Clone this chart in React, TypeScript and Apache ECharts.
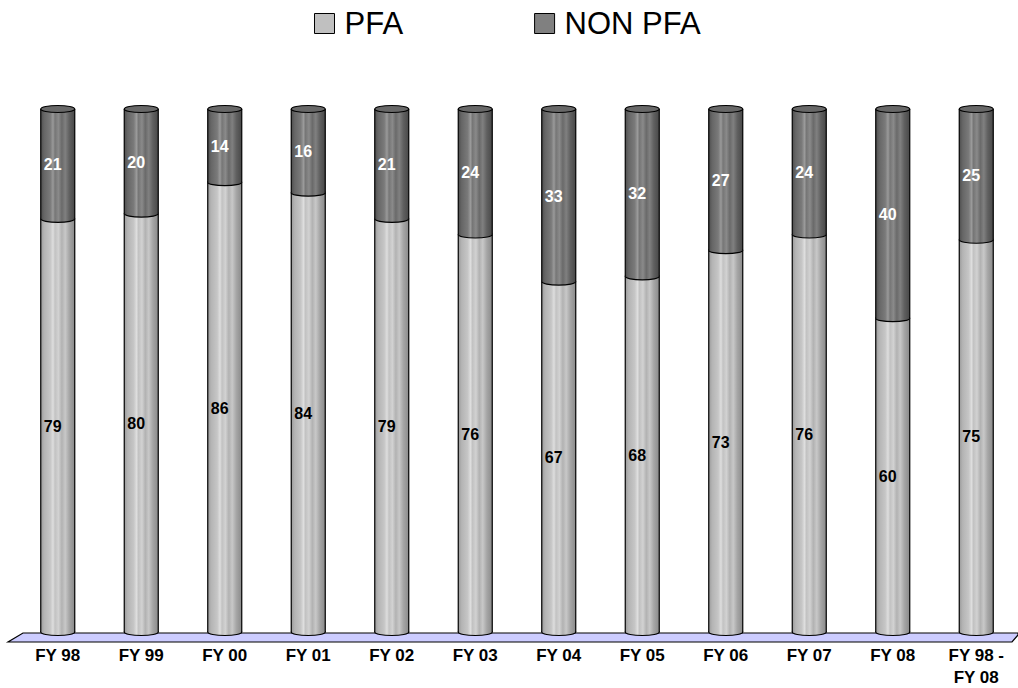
import React, { useEffect, useRef } from "react";
import * as echarts from "echarts";

const categories = ["FY 98", "FY 99", "FY 00", "FY 01", "FY 02", "FY 03", "FY 04", "FY 05", "FY 06", "FY 07", "FY 08", "FY 98 -\nFY 08"];
const pfa = [79, 80, 86, 84, 79, 76, 67, 68, 73, 76, 60, 75];
const nonPfa = [21, 20, 14, 16, 21, 24, 33, 32, 27, 24, 40, 25];
const seriesNames = ["PFA", "NON PFA"];

const FONT = "'Liberation Sans', Arial, sans-serif";

const lightStops = [
  { offset: 0, color: "#9a9a9a" },
  { offset: 0.1, color: "#b4b4b4" },
  { offset: 0.28, color: "#c6c6c6" },
  { offset: 0.36, color: "#dedede" },
  { offset: 0.42, color: "#c2c2c2" },
  { offset: 0.52, color: "#d2d2d2" },
  { offset: 0.62, color: "#b2b2b2" },
  { offset: 0.72, color: "#c8c8c8" },
  { offset: 0.84, color: "#a6a6a6" },
  { offset: 1, color: "#8a8a8a" },
];
const darkStops = [
  { offset: 0, color: "#4e4e4e" },
  { offset: 0.1, color: "#666666" },
  { offset: 0.28, color: "#7a7a7a" },
  { offset: 0.36, color: "#9a9a9a" },
  { offset: 0.42, color: "#767676" },
  { offset: 0.52, color: "#8a8a8a" },
  { offset: 0.62, color: "#6a6a6a" },
  { offset: 0.72, color: "#808080" },
  { offset: 0.84, color: "#606060" },
  { offset: 1, color: "#484848" },
];

function makeRender(dark: boolean) {
  return (params: any, api: any) => {
    const idx = api.value(0);
    const start = api.value(1);
    const end = api.value(2);
    const label = api.value(3);
    const p0 = api.coord([idx, start]);
    const p1 = api.coord([idx, end]);
    const cx = p0[0];
    const y0 = p0[1];
    const y1 = p1[1];
    const rx = 17;
    const ry = 3.5;
    const grad = new echarts.graphic.LinearGradient(0, 0, 1, 0, dark ? darkStops : lightStops);
    const children: any[] = [
      {
        type: "ellipse",
        shape: { cx, cy: y0, rx, ry },
        style: { fill: grad, stroke: "#000", lineWidth: 1.2 },
      },
      {
        type: "rect",
        shape: { x: cx - rx, y: y1, width: rx * 2, height: y0 - y1 },
        style: { fill: grad },
      },
      {
        type: "line",
        shape: { x1: cx - rx, y1: y1, x2: cx - rx, y2: y0 },
        style: { stroke: "#000", lineWidth: 1.2 },
      },
      {
        type: "line",
        shape: { x1: cx + rx, y1: y1, x2: cx + rx, y2: y0 },
        style: { stroke: "#000", lineWidth: 1.2 },
      },
    ];
    if (dark) {
      children.push({
        type: "ellipse",
        shape: { cx, cy: y1, rx, ry },
        style: { fill: "#686868", stroke: "#000", lineWidth: 1.2 },
      });
    }
    children.push({
      type: "text",
      style: {
        text: String(label),
        x: cx - 5,
        y: (y0 + y1) / 2 + 1,
        align: "center",
        verticalAlign: "middle",
        fontFamily: FONT,
        fontWeight: "bold",
        fontSize: 16,
        fill: dark ? "#ffffff" : "#000000",
      },
    });
    return { type: "group", children };
  };
}

export default function App() {
  const ref = useRef<HTMLDivElement>(null);
  useEffect(() => {
    if (!ref.current) return;
    const chart = echarts.init(ref.current, null, { renderer: "svg" });
    const pfaData = pfa.map((v, i) => [i, 0, v, v]);
    const nonData = nonPfa.map((v, i) => [i, pfa[i], pfa[i] + v, v]);
    chart.setOption({
      animation: false,
      backgroundColor: "#ffffff",
      legend: {
        top: 8,
        left: 314,
        padding: 0,
        icon: "rect",
        itemWidth: 20,
        itemHeight: 20,
        itemGap: 131,
        itemStyle: { borderColor: "#000", borderWidth: 1 },
        textStyle: { fontFamily: FONT, fontSize: 31, color: "#000", lineHeight: 30, padding: [0, 0, 0, 5] },
        data: seriesNames,
      },
      grid: { left: 16, right: 0, top: 109, bottom: 47 },
      xAxis: {
        type: "category",
        data: categories,
        axisLine: { show: false },
        axisTick: { show: false },
        axisLabel: {
          interval: 0,
          margin: 12,
          fontFamily: FONT,
          fontWeight: "bold",
          fontSize: 17,
          lineHeight: 22,
          color: "#000",
        },
      },
      yAxis: { type: "value", min: 0, max: 100, show: false, splitLine: { show: false } },
      graphic: [
        {
          type: "polygon",
          z: 0,
          shape: { points: [[23, 633], [1018, 633], [1018, 635], [1012, 642], [8, 642]] },
          style: { fill: "#ccccff", stroke: "#000", lineWidth: 1.2 },
        },
      ],
      series: [
        {
          name: seriesNames[0],
          type: "custom",
          itemStyle: { color: "#c0c0c0" },
          encode: { x: 0, y: [1, 2] },
          data: pfaData,
          renderItem: makeRender(false),
          z: 3,
        },
        {
          name: seriesNames[1],
          type: "custom",
          itemStyle: { color: "#808080" },
          encode: { x: 0, y: [1, 2] },
          data: nonData,
          renderItem: makeRender(true),
          z: 4,
        },
      ],
    });
    return () => chart.dispose();
  }, []);
  return <div ref={ref} style={{ position: "fixed", left: 0, top: 0, width: 1018, height: 688 }} />;
}
